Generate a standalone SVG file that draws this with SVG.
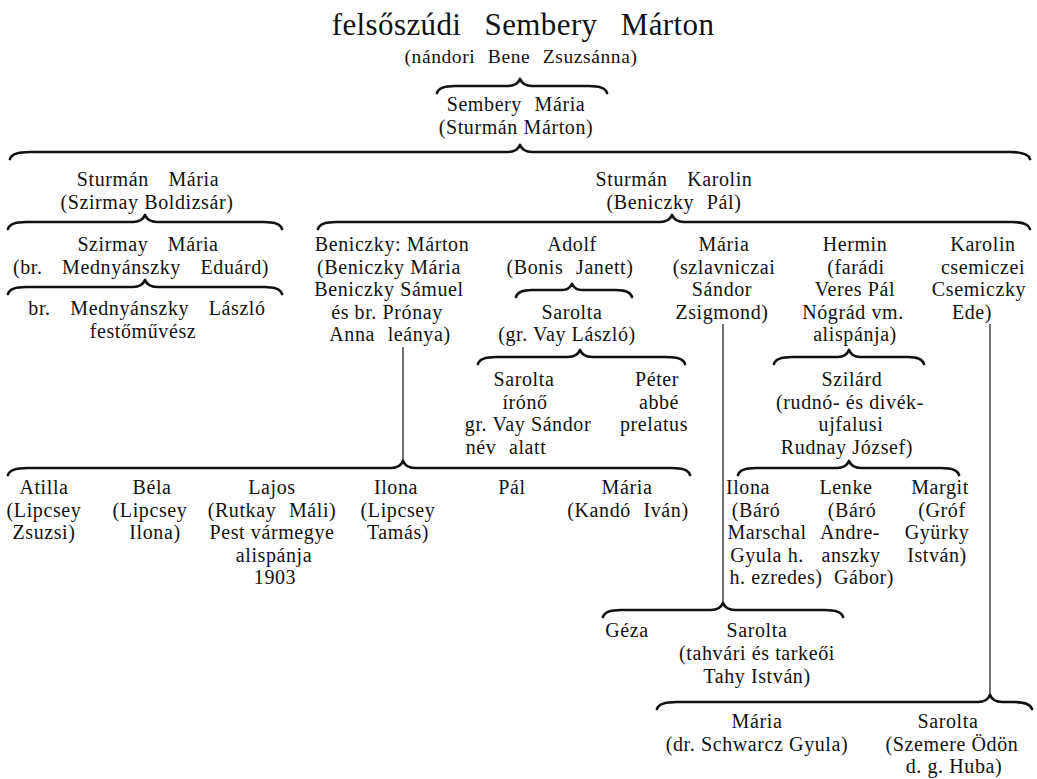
<svg xmlns="http://www.w3.org/2000/svg" width="1037" height="779" viewBox="0 0 1037 779">
<style>
text{font-family:"Liberation Serif","DejaVu Serif",serif;fill:#111;text-anchor:middle;font-size:20px;letter-spacing:0.6px}
.title{font-size:31px;word-spacing:15px;letter-spacing:0.4px}
.sub{font-size:19.5px;word-spacing:7px}
.w{word-spacing:7px}
.ww{word-spacing:14px}
.br{fill:none;stroke:#111;stroke-width:2.7;stroke-linecap:round;stroke-linejoin:round}
.v{fill:none;stroke:#111;stroke-width:1.2}
</style>
<rect width="1037" height="779" fill="#fff"/>
<g id="connectors">
<path class="br" d="M437 93 Q439 86 455 86 L508 86 Q517 86 520 79 Q523 86 532 86 L589 86 Q605 86 607 93"/>
<path class="br" d="M10 159 Q12 152 30 152 L508 152 Q517 152 520 145 Q523 152 532 152 L1010 152 Q1028 152 1030 159"/>
<path class="br" d="M8 229 Q10 222 26 222 L133 222 Q142 222 145 215 Q148 222 157 222 L264 222 Q280 222 282 229"/>
<path class="br" d="M318 229 Q320 222 336 222 L660 222 Q669 222 672 215 Q675 222 684 222 L1012 222 Q1028 222 1030 229"/>
<path class="br" d="M8 294 Q10 287 26 287 L133 287 Q142 287 145 280 Q148 287 157 287 L264 287 Q280 287 282 294"/>
<path class="br" d="M516 297 Q518 290 532 290 L562 290 Q569 290 572 284 Q575 290 582 290 L616 290 Q630 290 632 297"/>
<path class="br" d="M478 364 Q480 357 496 357 L568 357 Q577 357 580 350 Q583 357 592 357 L667 357 Q683 357 685 364"/>
<path class="br" d="M774 364 Q776 357 792 357 L838 357 Q846 357 849 350 Q852 357 860 357 L908 357 Q922 357 924 364"/>
<line class="v" x1="403" y1="347" x2="403" y2="461"/>
<path class="br" d="M8 475 Q10 468 28 468 L391 468 Q400 468 403 461 Q406 468 415 468 L672 468 Q688 468 690 475"/>
<path class="br" d="M738 475 Q740 468 756 468 L837 468 Q846 468 849 461 Q852 468 861 468 L941 468 Q957 468 959 475"/>
<line class="v" x1="723" y1="324" x2="723" y2="603"/>
<path class="br" d="M603 617 Q605 610 621 610 L711 610 Q720 610 723 603 Q726 610 735 610 L825 610 Q841 610 843 617"/>
<line class="v" x1="990" y1="324" x2="990" y2="695"/>
<path class="br" d="M657 709 Q659 702 677 702 L978 702 Q987 702 990 695 Q993 702 1002 702 L1014 702 Q1030 702 1032 709"/>
</g>
<g id="n-root"><text><tspan class="title" x="523" y="35">felsőszúdi Sembery Márton</tspan><tspan class="sub" x="521" y="63">(nándori Bene Zsuzsánna)</tspan></text></g>
<g id="n-sembery-maria"><text><tspan class="w" x="516" y="111">Sembery Mária</tspan><tspan x="516" y="133.5">(Sturmán Márton)</tspan></text></g>
<g id="n-sturman-maria"><text><tspan class="ww" x="148" y="186">Sturmán Mária</tspan><tspan x="147" y="208.5">(Szirmay Boldizsár)</tspan></text></g>
<g id="n-sturman-karolin"><text><tspan class="ww" x="674" y="186">Sturmán Karolin</tspan><tspan class="w" x="674" y="208.5">(Beniczky Pál)</tspan></text></g>
<g id="n-szirmay-maria"><text class="ww"><tspan x="148" y="251">Szirmay Mária</tspan><tspan x="141" y="273.5">(br. Mednyánszky Eduárd)</tspan></text></g>
<g id="n-mednyanszky"><text><tspan class="ww" x="147" y="315">br. Mednyánszky László</tspan><tspan x="143" y="337.5">festőművész</tspan></text></g>
<g id="n-beniczky-marton"><text><tspan x="392" y="251">Beniczky: Márton</tspan><tspan x="389" y="273.5">(Beniczky Mária</tspan><tspan x="389" y="296">Beniczky Sámuel</tspan><tspan x="387" y="318.5">és br. Prónay</tspan><tspan class="w" x="390" y="341">Anna leánya)</tspan></text></g>
<g id="n-adolf"><text><tspan x="572" y="251">Adolf</tspan><tspan class="w" x="570" y="273.5">(Bonis Janett)</tspan></text></g>
<g id="n-sarolta-vay"><text><tspan x="572" y="318.5">Sarolta</tspan><tspan x="567" y="341">(gr. Vay László)</tspan></text></g>
<g id="n-maria-szlav"><text><tspan x="724" y="251">Mária</tspan><tspan x="724" y="273.5">(szlavniczai</tspan><tspan x="722" y="296">Sándor</tspan><tspan x="722" y="318.5">Zsigmond)</tspan></text></g>
<g id="n-hermin"><text><tspan x="855" y="251">Hermin</tspan><tspan x="856" y="273.5">(farádi</tspan><tspan x="855" y="296">Veres Pál</tspan><tspan x="853" y="318.5">Nógrád vm.</tspan><tspan x="855" y="341">alispánja)</tspan></text></g>
<g id="n-karolin"><text><tspan x="983" y="251">Karolin</tspan><tspan x="983" y="273.5">csemiczei</tspan><tspan x="979" y="296">Csemiczky</tspan><tspan x="972" y="318.5">Ede)</tspan></text></g>
<g id="n-sarolta-ironoe"><text><tspan x="524" y="386">Sarolta</tspan><tspan x="525" y="408.5">írónő</tspan><tspan x="528" y="431">gr. Vay Sándor</tspan><tspan class="w" x="506" y="453.5">név alatt</tspan></text></g>
<g id="n-peter"><text><tspan x="657" y="386">Péter</tspan><tspan x="659" y="408.5">abbé</tspan><tspan x="654" y="431">prelatus</tspan></text></g>
<g id="n-szilard"><text><tspan x="852" y="386">Szilárd</tspan><tspan x="850" y="408.5">(rudnó- és divék-</tspan><tspan x="851" y="431">ujfalusi</tspan><tspan x="847" y="453.5">Rudnay József)</tspan></text></g>
<g id="n-atilla"><text><tspan x="44" y="494">Atilla</tspan><tspan x="44" y="516.5">(Lipcsey</tspan><tspan x="44" y="539">Zsuzsi)</tspan></text></g>
<g id="n-bela"><text><tspan x="152" y="494">Béla</tspan><tspan x="150" y="516.5">(Lipcsey</tspan><tspan x="155" y="539">Ilona)</tspan></text></g>
<g id="n-lajos"><text><tspan x="272" y="494">Lajos</tspan><tspan class="w" x="272" y="516.5">(Rutkay Máli)</tspan><tspan x="272" y="539">Pest vármegye</tspan><tspan x="274" y="561.5">alispánja</tspan><tspan x="275" y="584">1903</tspan></text></g>
<g id="n-ilona-l"><text><tspan x="396" y="494">Ilona</tspan><tspan x="398" y="516.5">(Lipcsey</tspan><tspan x="398" y="539">Tamás)</tspan></text></g>
<g id="n-pal"><text x="512" y="494">Pál</text></g>
<g id="n-maria-kando"><text><tspan x="627" y="494">Mária</tspan><tspan class="w" x="628" y="516.5">(Kandó Iván)</tspan></text></g>
<g id="n-ilona-r"><text><tspan x="748" y="494">Ilona</tspan><tspan x="756" y="516.5">(Báró</tspan><tspan x="767" y="539">Marschal</tspan><tspan x="767" y="561.5">Gyula h.</tspan><tspan x="776" y="584">h. ezredes)</tspan></text></g>
<g id="n-lenke"><text><tspan x="846" y="494">Lenke</tspan><tspan x="852" y="516.5">(Báró</tspan><tspan x="850" y="539">Andre-</tspan><tspan x="851" y="561.5">anszky</tspan><tspan x="864" y="584">Gábor)</tspan></text></g>
<g id="n-margit"><text><tspan x="940" y="494">Margit</tspan><tspan x="942" y="516.5">(Gróf</tspan><tspan x="937" y="539">Gyürky</tspan><tspan x="937" y="561.5">István)</tspan></text></g>
<g id="n-geza"><text x="627" y="637">Géza</text></g>
<g id="n-sarolta-tahy"><text><tspan x="757" y="637">Sarolta</tspan><tspan x="757" y="660">(tahvári és tarkeői</tspan><tspan x="757" y="683">Tahy István)</tspan></text></g>
<g id="n-maria-schwarcz"><text><tspan x="757" y="728">Mária</tspan><tspan x="757" y="750.5">(dr. Schwarcz Gyula)</tspan></text></g>
<g id="n-sarolta-szemere"><text><tspan x="948" y="728">Sarolta</tspan><tspan x="952" y="750.5">(Szemere Ödön</tspan><tspan x="954" y="773">d. g. Huba)</tspan></text></g>
</svg>
